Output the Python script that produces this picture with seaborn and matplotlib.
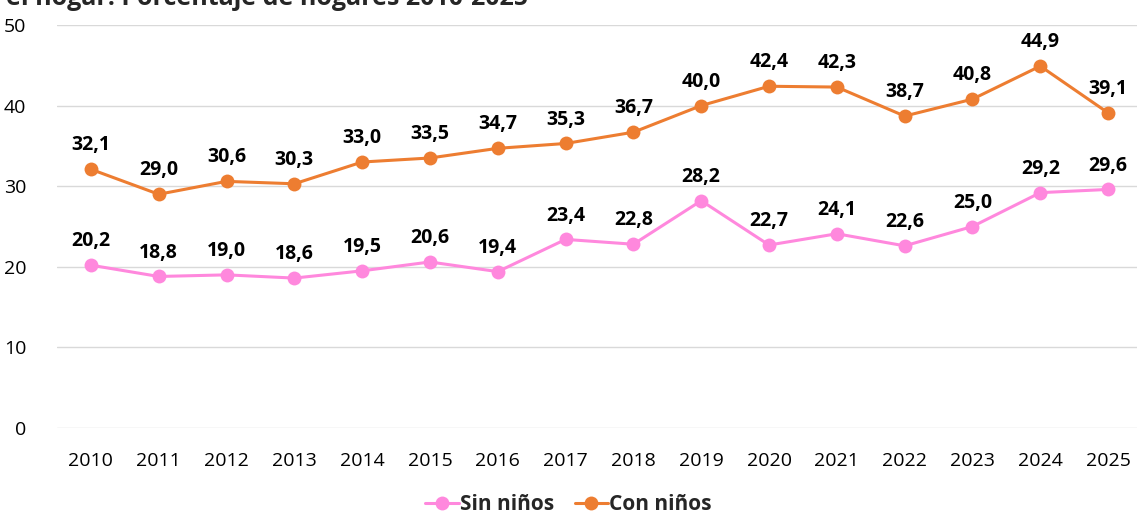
import matplotlib
matplotlib.use("Agg")
import matplotlib.pyplot as plt
import seaborn as sns
import pandas as pd

years = [str(y) for y in range(2010, 2026)]
sin_ninos = [20.2, 18.8, 19.0, 18.6, 19.5, 20.6, 19.4, 23.4, 22.8, 28.2, 22.7, 24.1, 22.6, 25.0, 29.2, 29.6]
con_ninos = [32.1, 29.0, 30.6, 30.3, 33.0, 33.5, 34.7, 35.3, 36.7, 40.0, 42.4, 42.3, 38.7, 40.8, 44.9, 39.1]
series_names = ["Sin niños", "Con niños"]
colors = ["#FF88DD", "#ED7D31"]
title = "el hogar. Porcentaje de hogares 2010-2025"

sns.set_theme(style="white")
plt.rcParams['font.family'] = ['Open Sans', 'DejaVu Sans']

df = pd.DataFrame({
    "year": years * 2,
    "x": list(range(len(years))) * 2,
    "value": sin_ninos + con_ninos,
    "serie": [series_names[0]] * len(years) + [series_names[1]] * len(years),
})

fig = plt.figure(figsize=(11.37, 5.18), dpi=100)
ax = fig.add_axes([57 / 1137, 1 - 428 / 518, (1142 - 57) / 1137, (428 - 25) / 518])

sns.lineplot(data=df, x="x", y="value", hue="serie", palette=colors,
             marker="o", markersize=10, markeredgewidth=0, linewidth=2.2, ax=ax)

for vals in (sin_ninos, con_ninos):
    for i, v in enumerate(vals):
        ax.annotate(f"{v:.1f}".replace(".", ","), (i, v), xytext=(0, 10),
                    textcoords="offset points", ha="center", va="bottom",
                    fontsize=14, fontweight="bold", color="black")

ax.set_xlim(-0.5, len(years) - 0.5)
ax.set_ylim(0, 50)
ax.set_yticks(range(0, 51, 10))
ax.set_xticks(range(len(years)))
ax.set_xticklabels(years)
ax.tick_params(axis="both", labelsize=14, length=0, colors="black")
ax.tick_params(axis="x", pad=17)
ax.tick_params(axis="y", pad=22)
ax.grid(axis="y", color="#D9D9D9", linewidth=1)
ax.set_axisbelow(True)
for s in ax.spines.values():
    s.set_visible(False)
ax.set_xlabel("")
ax.set_ylabel("")

handles, labels = ax.get_legend_handles_labels()
ax.legend(handles, labels, loc="lower center",
          bbox_to_anchor=(0.5 * 1137 / (1142 - 57) - 57 / (1142 - 57), -0.262),
          ncol=2, frameon=False, handlelength=1.6, handletextpad=0.05, columnspacing=1.0,
          prop={"size": 15, "weight": "bold"})

fig.text(0.005, 1.0 + 14 / 518, title, ha="left", va="top", fontsize=18, fontweight="bold")

fig.savefig("out.png", dpi=100)
